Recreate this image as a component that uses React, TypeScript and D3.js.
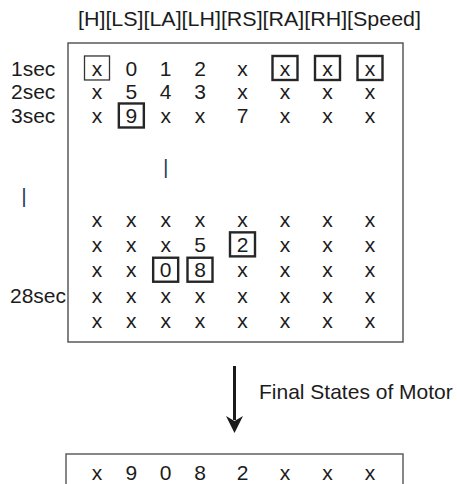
import React from "react";
import * as d3 from "d3";

const columns = ["H", "LS", "LA", "LH", "RS", "RA", "RH", "Speed"];
const topRowLabels = ["1sec", "2sec", "3sec"];
const topRows = [
  ["x", "0", "1", "2", "x", "x", "x", "x"],
  ["x", "5", "4", "3", "x", "x", "x", "x"],
  ["x", "9", "x", "x", "7", "x", "x", "x"],
];
// [row, col, thin?]
const topBoxed: [number, number, boolean][] = [
  [0, 0, true],
  [0, 5, false],
  [0, 6, false],
  [0, 7, false],
  [2, 1, false],
];
const bottomRowLabels = ["", "", "", "28sec", ""];
const bottomRows = [
  ["x", "x", "x", "x", "x", "x", "x", "x"],
  ["x", "x", "x", "5", "2", "x", "x", "x"],
  ["x", "x", "0", "8", "x", "x", "x", "x"],
  ["x", "x", "x", "x", "x", "x", "x", "x"],
  ["x", "x", "x", "x", "x", "x", "x", "x"],
];
const bottomBoxed: [number, number, boolean][] = [
  [1, 4, false],
  [2, 2, false],
  [2, 3, false],
];
const finalState = ["x", "9", "0", "8", "2", "x", "x", "x"];
const arrowLabel = "Final States of Motor";

const FONT = "'Liberation Sans', Arial, Helvetica, sans-serif";
const FS = 21;
const INK = "#1c1c1c";

export default function App() {
  const W = 457;
  const H = 484;
  const header = columns.map((c) => `[${c}]`).join("");

  const x = d3.scaleLinear().domain([0, 3, 7]).range([97, 200, 370]);
  const yTop = d3.scaleLinear().domain([0, topRows.length - 1]).range([75.5, 123]);
  const yBot = d3.scaleLinear().domain([0, bottomRows.length - 1]).range([226.5, 328]);
  const yFinal = 479.5;
  const capMid = 0.358 * FS;
  const boxW = 25;
  const boxH = 24;

  const renderRows = (rows: string[][], y: d3.ScaleLinear<number, number>, key: string) =>
    rows.map((row, ri) =>
      row.map((v, ci) => (
        <text
          key={`${key}-${ri}-${ci}`}
          x={x(ci)}
          y={y(ri)}
          textAnchor="middle"
          fontFamily={FONT}
          fontSize={FS}
          fill={INK}
        >
          {v}
        </text>
      ))
    );

  const renderBoxes = (boxes: [number, number, boolean][], y: d3.ScaleLinear<number, number>, key: string) =>
    boxes.map(([ri, ci, thin]) => (
      <rect
        key={`${key}-b-${ri}-${ci}`}
        x={x(ci) - boxW / 2}
        y={y(ri) - capMid - boxH / 2}
        width={boxW}
        height={boxH}
        fill="none"
        stroke={thin ? "#333" : "#262626"}
        strokeWidth={thin ? 1.3 : 2.4}
      />
    ));

  const arrowX = 234.5;
  const arrowTop = 366;
  const arrowTip = 433;
  const arrowPath = d3.path();
  arrowPath.moveTo(arrowX, arrowTip);
  arrowPath.lineTo(arrowX - 8.5, arrowTip - 17);
  arrowPath.lineTo(arrowX, arrowTip - 12);
  arrowPath.lineTo(arrowX + 8.5, arrowTip - 17);
  arrowPath.closePath();

  return (
    <svg
      width={W}
      height={H}
      style={{ position: "absolute", left: 0, top: 0, background: "#fff" }}
    >
      <rect x={0} y={0} width={W} height={H} fill="#fff" />
      <text
        x={78}
        y={25.5}
        fontFamily={FONT}
        fontSize={FS}
        fill={INK}
        textLength={343}
        lengthAdjust="spacingAndGlyphs"
      >
        {header}
      </text>

      <rect x={68} y={43} width={335} height={299} fill="none" stroke="#4d4d4d" strokeWidth={1.4} />

      {topRowLabels.map((l, i) => (
        <text key={`tl-${i}`} x={11} y={yTop(i)} fontFamily={FONT} fontSize={FS} fill={INK}>
          {l}
        </text>
      ))}
      {bottomRowLabels.map((l, i) =>
        l ? (
          <text key={`bl-${i}`} x={10} y={yBot(i)} fontFamily={FONT} fontSize={FS} fill={INK}>
            {l}
          </text>
        ) : null
      )}

      {renderRows(topRows, yTop, "t")}
      {renderBoxes(topBoxed, yTop, "t")}

      <text x={x(2)} y={173.5} textAnchor="middle" fontFamily={FONT} fontSize={FS} fill="#2a3f5f">
        |
      </text>
      <text x={24} y={202.5} textAnchor="middle" fontFamily={FONT} fontSize={FS} fill="#2a3f5f">
        |
      </text>

      {renderRows(bottomRows, yBot, "b")}
      {renderBoxes(bottomBoxed, yBot, "b")}

      <line x1={arrowX} x2={arrowX} y1={arrowTop} y2={arrowTip - 13} stroke="#1a1a1a" strokeWidth={3} />
      <path d={arrowPath.toString()} fill="#1a1a1a" />
      <text x={259} y={399} fontFamily={FONT} fontSize={FS} fill={INK}>
        {arrowLabel}
      </text>

      <rect x={66} y={454} width={337} height={60} fill="none" stroke="#555" strokeWidth={1.4} />
      {finalState.map((v, ci) => (
        <text
          key={`f-${ci}`}
          x={x(ci)}
          y={yFinal}
          textAnchor="middle"
          fontFamily={FONT}
          fontSize={FS}
          fill={INK}
        >
          {v}
        </text>
      ))}
    </svg>
  );
}
